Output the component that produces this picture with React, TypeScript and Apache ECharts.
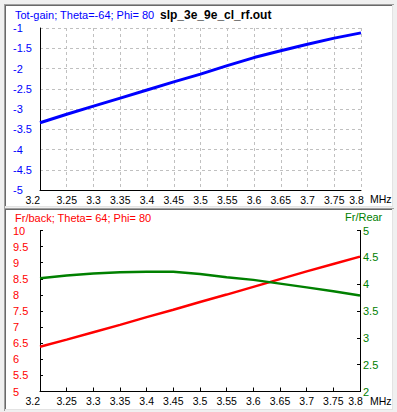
import React, { useEffect, useRef } from "react";
import * as echarts from "echarts";

const freqs = [3.2, 3.25, 3.3, 3.35, 3.4, 3.45, 3.5, 3.55, 3.6, 3.65, 3.7, 3.75, 3.8];
const totGain = [-3.34, -3.13, -2.93, -2.73, -2.53, -2.33, -2.14, -1.93, -1.73, -1.56, -1.4, -1.25, -1.12];
const frBack = [6.39, 6.61, 6.84, 7.07, 7.31, 7.54, 7.78, 8.01, 8.25, 8.49, 8.73, 8.96, 9.19];
const frRear = [4.11, 4.16, 4.2, 4.22, 4.23, 4.23, 4.19, 4.13, 4.08, 4.01, 3.94, 3.87, 3.79];

const topTitle = "Tot-gain; Theta=-64; Phi= 80";
const fileTitle = "slp_3e_9e_cl_rf.out";
const bottomTitle = "Fr/back; Theta= 64; Phi= 80";
const rightTitle = "Fr/Rear";
const unitLabel = "MHz";

const FONT = "'Liberation Sans', Arial, sans-serif";

function panel(x: number, y: number, w: number, h: number) {
  const x2 = x + w;
  const y2 = y + h;
  return [
    { type: "rect", z: -10, shape: { x, y, width: w, height: h }, style: { fill: "#ffffff" } },
    { type: "line", z: -9, shape: { x1: x - 1, y1: y - 0.5, x2: x2 + 1, y2: y - 0.5 }, style: { stroke: "#a0a0a0", lineWidth: 1 } },
    { type: "line", z: -9, shape: { x1: x, y1: y + 0.5, x2: x2, y2: y + 0.5 }, style: { stroke: "#696969", lineWidth: 1 } },
    { type: "line", z: -9, shape: { x1: x - 0.5, y1: y - 1, x2: x - 0.5, y2: y2 + 1 }, style: { stroke: "#a0a0a0", lineWidth: 1 } },
    { type: "line", z: -9, shape: { x1: x + 0.5, y1: y, x2: x + 0.5, y2: y2 }, style: { stroke: "#696969", lineWidth: 1 } },
    { type: "line", z: -9, shape: { x1: x2 - 0.5, y1: y, x2: x2 - 0.5, y2: y2 }, style: { stroke: "#e3e3e3", lineWidth: 1 } },
    { type: "line", z: -9, shape: { x1: x, y1: y2 - 0.5, x2: x2, y2: y2 - 0.5 }, style: { stroke: "#e3e3e3", lineWidth: 1 } },
  ];
}

export default function App() {
  const ref = useRef<HTMLDivElement>(null);
  useEffect(() => {
    document.body.style.margin = "0";
    const chart = echarts.init(ref.current!, null, { renderer: "svg" });
    const xMax = freqs[freqs.length - 1];
    const fmtX = (v: number) => {
      const s = String(+Number(v).toFixed(2));
      return Math.abs(v - xMax) < 1e-6 ? `{m|${s}}` : s;
    };
    const fmtY = (v: number) => String(+Number(v).toFixed(2));
    const xLabel = {
      color: "#000",
      fontSize: 10.5,
      fontFamily: FONT,
      margin: 4,
      formatter: fmtX,
      alignMinLabel: "right",
      rich: { m: { padding: [0, 9, 0, 0], fontSize: 10.5, fontFamily: FONT, color: "#000" } },
    };
    const option: any = {
      animation: false,
      backgroundColor: "#f0f0f0",
      textStyle: { fontFamily: FONT },
      grid: [
        { left: 40, top: 28, width: 321, height: 162, containLabel: false },
        { left: 40, top: 230.5, width: 320, height: 161, containLabel: false },
      ],
      xAxis: [
        {
          type: "value",
          gridIndex: 0,
          min: 3.2,
          max: 3.8,
          interval: 0.05,
          axisLine: { show: true, onZero: false, lineStyle: { color: "#000", width: 1 } },
          axisTick: { show: false },
          splitLine: { show: true, lineStyle: { color: "#c0c0c0", type: [3, 3], width: 1 } },
          axisLabel: xLabel,
        },
        {
          type: "value",
          gridIndex: 1,
          min: 3.2,
          max: 3.8,
          interval: 0.05,
          axisLine: { show: true, onZero: false, lineStyle: { color: "#000", width: 1 } },
          axisTick: { show: true, inside: true, length: 4, lineStyle: { color: "#000" } },
          splitLine: { show: false },
          axisLabel: xLabel,
        },
      ],
      yAxis: [
        {
          type: "value",
          gridIndex: 0,
          min: -5,
          max: -1,
          interval: 0.5,
          axisLine: { show: true, onZero: false, lineStyle: { color: "#000", width: 1 } },
          axisTick: { show: false },
          splitLine: { show: true, lineStyle: { color: "#c0c0c0", type: [3, 3], width: 1 } },
          axisLabel: { color: "#0000ff", fontSize: 11, fontFamily: FONT, align: "left", margin: 27, formatter: fmtY },
        },
        {
          type: "value",
          gridIndex: 1,
          position: "left",
          min: 5,
          max: 10,
          interval: 0.5,
          axisLine: { show: true, onZero: false, lineStyle: { color: "#000", width: 1 } },
          axisTick: { show: true, inside: true, length: 3, lineStyle: { color: "#000" } },
          splitLine: { show: false },
          axisLabel: { color: "#ff0000", fontSize: 11, fontFamily: FONT, align: "left", margin: 27, formatter: fmtY },
        },
        {
          type: "value",
          gridIndex: 1,
          position: "right",
          min: 2,
          max: 5,
          interval: 0.5,
          axisLine: { show: true, onZero: false, lineStyle: { color: "#000", width: 1 } },
          axisTick: { show: true, inside: true, length: 3, lineStyle: { color: "#000" } },
          splitLine: { show: false },
          axisLabel: { color: "#008000", fontSize: 11, fontFamily: FONT, align: "left", margin: 3, formatter: fmtY },
        },
      ],
      series: [
        {
          name: "Tot-gain",
          type: "line",
          xAxisIndex: 0,
          yAxisIndex: 0,
          data: freqs.map((f, i) => [f, totGain[i]]),
          showSymbol: false,
          lineStyle: { color: "#0000ff", width: 3 },
          itemStyle: { color: "#0000ff" },
        },
        {
          name: "Fr/back",
          type: "line",
          xAxisIndex: 1,
          yAxisIndex: 1,
          data: freqs.map((f, i) => [f, frBack[i]]),
          showSymbol: false,
          lineStyle: { color: "#ff0000", width: 2.5 },
          itemStyle: { color: "#ff0000" },
        },
        {
          name: "Fr/Rear",
          type: "line",
          xAxisIndex: 1,
          yAxisIndex: 2,
          data: freqs.map((f, i) => [f, frRear[i]]),
          showSymbol: false,
          lineStyle: { color: "#008000", width: 2.5 },
          itemStyle: { color: "#008000" },
        },
      ],
      graphic: [
        ...panel(5, 5, 388, 202),
        ...panel(5, 209, 388, 201),
        { type: "text", x: 15, y: 15, style: { text: topTitle, fill: "#0000ff", font: `11px ${FONT}`, textVerticalAlign: "middle" } },
        { type: "text", x: 160, y: 15, style: { text: fileTitle, fill: "#000", font: `bold 12px ${FONT}`, textVerticalAlign: "middle" } },
        { type: "text", x: 370, y: 199, style: { text: unitLabel, fill: "#000", font: `10.5px ${FONT}`, textVerticalAlign: "middle" } },
        { type: "text", x: 15, y: 218, style: { text: bottomTitle, fill: "#ff0000", font: `11px ${FONT}`, textVerticalAlign: "middle" } },
        { type: "text", x: 345, y: 217, style: { text: rightTitle, fill: "#008000", font: `11px ${FONT}`, textVerticalAlign: "middle" } },
        { type: "text", x: 370, y: 401, style: { text: unitLabel, fill: "#000", font: `10.5px ${FONT}`, textVerticalAlign: "middle" } },
      ],
    };
    chart.setOption(option);
    return () => chart.dispose();
  }, []);
  return <div ref={ref} style={{ position: "absolute", left: 0, top: 0, width: 397, height: 412 }} />;
}
